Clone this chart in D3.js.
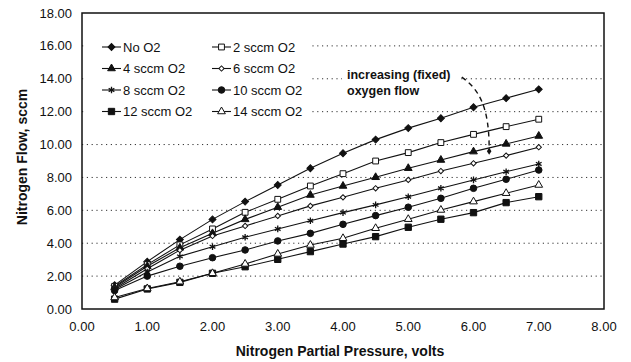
<!DOCTYPE html>
<meta charset="utf-8">
<script src="https://d3js.org/d3.v7.min.js"></script>
<style>
  body { margin: 0; background: #fff; }
  text { font-family: "Liberation Sans", Arial, sans-serif; fill: #111; }
  .grid line { stroke: #333; stroke-dasharray: 1.2,3.6; stroke-width: 1; }
  .series { fill: none; stroke: #111; stroke-width: 1.1; }
</style>
<div id="chart"></div>
<script>

// data
var pressure = [0.5, 1.0, 1.5, 2.0, 2.5, 3.0, 3.5, 4.0, 4.5, 5.0, 5.5, 6.0, 6.5, 7.0];
var seriesNames = ["No O2", "2 sccm O2", "4 sccm O2", "6 sccm O2", "8 sccm O2", "10 sccm O2", "12 sccm O2", "14 sccm O2"];
var noO2   = [1.45, 2.88, 4.22, 5.45, 6.53, 7.54, 8.56, 9.47, 10.30, 11.00, 11.60, 12.27, 12.82, 13.36];
var o2_2   = [1.38, 2.70, 3.90, 4.87, 5.88, 6.67, 7.48, 8.23, 9.00, 9.51, 10.12, 10.62, 11.09, 11.54];
var o2_4   = [1.32, 2.60, 3.72, 4.60, 5.45, 6.19, 6.93, 7.48, 8.01, 8.56, 9.06, 9.57, 10.04, 10.52];
var o2_6   = [1.25, 2.45, 3.58, 4.44, 5.05, 5.66, 6.27, 6.79, 7.34, 7.85, 8.39, 8.86, 9.33, 9.84];
var o2_8   = [1.18, 2.25, 3.20, 3.79, 4.36, 4.87, 5.37, 5.86, 6.33, 6.83, 7.34, 7.85, 8.35, 8.82];
var o2_10  = [1.12, 2.00, 2.60, 3.12, 3.59, 4.14, 4.60, 5.15, 5.68, 6.19, 6.73, 7.34, 7.89, 8.45];
var o2_12  = [0.60, 1.22, 1.62, 2.17, 2.57, 3.02, 3.49, 3.95, 4.40, 4.97, 5.46, 5.86, 6.47, 6.83];
var o2_14  = [0.70, 1.25, 1.66, 2.17, 2.74, 3.35, 3.89, 4.30, 4.91, 5.46, 6.02, 6.53, 7.04, 7.54];
var xTicks = [0, 1, 2, 3, 4, 5, 6, 7, 8];
var yTicks = [0, 2, 4, 6, 8, 10, 12, 14, 16, 18];

var allSeries = [noO2, o2_2, o2_4, o2_6, o2_8, o2_10, o2_12, o2_14];

// marker styles per series (rot = square turned into a diamond)
var markers = [
  {type: d3.symbolSquare,   size: 24, fill: "#111", rot: 45},
  {type: d3.symbolSquare,   size: 34, fill: "#fff"},
  {type: d3.symbolTriangle, size: 26, fill: "#111"},
  {type: d3.symbolSquare,   size: 14, fill: "#fff", rot: 45},
  {type: d3.symbolAsterisk, size: 30, fill: "none"},
  {type: d3.symbolCircle,   size: 34, fill: "#111"},
  {type: d3.symbolSquare,   size: 40, fill: "#111"},
  {type: d3.symbolTriangle, size: 26, fill: "#fff"}
];

var W = 631, H = 362;
var margin = {top: 13, right: 27, bottom: 53, left: 82};
var width = W - margin.left - margin.right,
    height = H - margin.top - margin.bottom;

var svg = d3.select("#chart").append("svg")
    .attr("width", W)
    .attr("height", H);

var g = svg.append("g")
    .attr("transform", "translate(" + margin.left + "," + margin.top + ")");

var x = d3.scaleLinear().domain([0, 8]).range([0, width]);
var y = d3.scaleLinear().domain([0, 18]).range([height, 0]);

// horizontal dotted gridlines
g.append("g")
    .attr("class", "grid")
  .selectAll("line")
  .data(yTicks.filter(function(d) { return d > 0 && d < 18; }))
  .enter().append("line")
    .attr("x1", 0)
    .attr("x2", width)
    .attr("y1", function(d) { return y(d); })
    .attr("y2", function(d) { return y(d); });

// y axis labels
g.selectAll(".ylab")
  .data(yTicks)
  .enter().append("text")
    .attr("class", "ylab")
    .attr("x", -10)
    .attr("y", function(d) { return y(d); })
    .attr("dy", "0.35em")
    .attr("text-anchor", "end")
    .style("font-size", "13px")
    .text(function(d) { return d3.format(".2f")(d); });

// x axis labels
g.selectAll(".xlab")
  .data(xTicks)
  .enter().append("text")
    .attr("class", "xlab")
    .attr("x", function(d) { return x(d); })
    .attr("y", height + 22)
    .attr("text-anchor", "middle")
    .style("font-size", "13px")
    .text(function(d) { return d3.format(".2f")(d); });

// axis titles
svg.append("text")
    .attr("x", 340)
    .attr("y", H - 6)
    .attr("text-anchor", "middle")
    .style("font-size", "14px")
    .style("font-weight", "bold")
    .text("Nitrogen Partial Pressure, volts");

svg.append("text")
    .attr("transform", "translate(27,157)rotate(-90)")
    .attr("text-anchor", "middle")
    .style("font-size", "14px")
    .style("font-weight", "bold")
    .text("Nitrogen Flow, sccm");

// lines
var line = d3.line()
    .x(function(d, i) { return x(pressure[i]); })
    .y(function(d) { return y(d); });

allSeries.forEach(function(vals) {
  g.append("path")
      .attr("class", "series")
      .attr("d", line(vals));
});

function drawMarker(sel, m) {
  var isStroke = m.type === d3.symbolAsterisk;
  sel.attr("d", d3.symbol().type(m.type).size(m.size))
     .attr("fill", isStroke ? "none" : m.fill)
     .attr("stroke", "#111")
     .attr("stroke-width", isStroke ? 1.3 : 1);
}

function markerPos(px, py, m) {
  return "translate(" + px + "," + py + ")" + (m.rot ? "rotate(" + m.rot + ")" : "");
}

allSeries.forEach(function(vals, k) {
  g.selectAll(".m" + k)
    .data(vals)
    .enter().append("path")
      .attr("class", "m" + k)
      .attr("transform", function(d, i) { return markerPos(x(pressure[i]), y(d), markers[k]); })
      .call(drawMarker, markers[k]);
});

// plot border
g.append("rect")
    .attr("width", width)
    .attr("height", height)
    .attr("fill", "none")
    .attr("stroke", "#111")
    .attr("stroke-width", 1.5);

// legend with white box
var legend = g.append("g").attr("transform", "translate(4,20)");
legend.append("rect")
    .attr("width", 226)
    .attr("height", 90)
    .attr("fill", "#fff");

seriesNames.forEach(function(name, k) {
  var col = k % 2, row = Math.floor(k / 2);
  var lx = 16 + col * 110, ly = 14 + row * 21.5;
  var item = legend.append("g").attr("transform", "translate(" + lx + "," + ly + ")");
  item.append("line")
      .attr("x1", 0).attr("x2", 19)
      .attr("stroke", "#111")
      .attr("stroke-width", 1.1);
  item.append("path")
      .attr("transform", markerPos(9.5, 0, markers[k]))
      .call(drawMarker, markers[k]);
  item.append("text")
      .attr("x", 21)
      .attr("dy", "0.36em")
      .style("font-size", "13px")
      .text(name);
});

// annotation
var ann = g.append("g");
ann.append("rect")
    .attr("x", 260).attr("y", 53)
    .attr("width", 118).attr("height", 33)
    .attr("fill", "#fff");
ann.append("text")
    .attr("x", 265).attr("y", 66)
    .style("font-size", "12.5px")
    .style("font-weight", "bold")
    .text("increasing (fixed)");
ann.append("text")
    .attr("x", 265).attr("y", 82)
    .style("font-size", "12.5px")
    .style("font-weight", "bold")
    .text("oxygen flow");

// dashed curved arrow pointing down through the series
ann.append("path")
    .attr("d", "M" + x(5.82) + "," + y(14.1) +
               " C" + x(6.07) + "," + y(13.4) +
               " " + x(6.24) + "," + y(12.4) +
               " " + x(6.24) + "," + y(9.75))
    .attr("fill", "none")
    .attr("stroke", "#111")
    .attr("stroke-width", 1.4)
    .attr("stroke-dasharray", "5,4");
ann.append("path")
    .attr("transform", "translate(" + x(6.24) + "," + y(9.6) + ")scale(0.8,1.3)rotate(45)")
    .attr("d", d3.symbol().type(d3.symbolSquare).size(16))
    .attr("fill", "#111");

</script>
